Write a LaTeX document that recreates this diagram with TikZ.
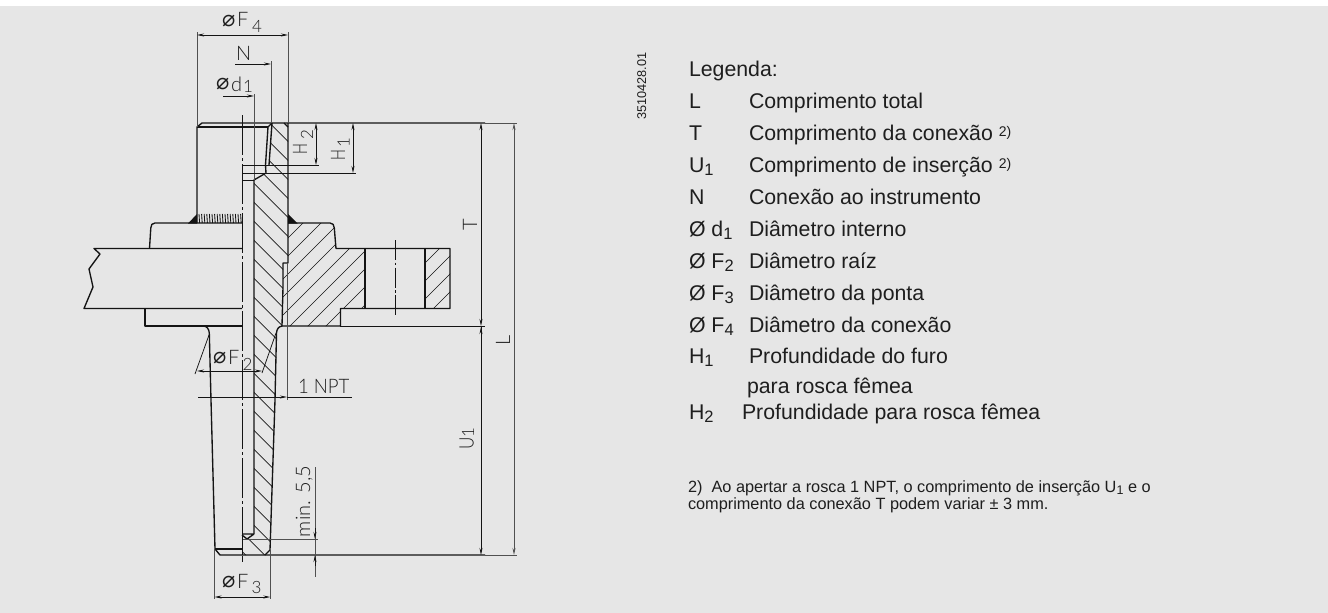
\documentclass[tikz,border=0pt]{standalone}
\usepackage{fontspec}
\usetikzlibrary{arrows.meta}
\setmainfont{Liberation Sans}
\newfontfamily\isofont{Lato Light}
\newfontfamily\dejafont{DejaVu Sans}
\definecolor{panel}{HTML}{E6E6E6}
\definecolor{ink}{HTML}{141414}
\definecolor{txt}{HTML}{1E1E1E}
\definecolor{extc}{HTML}{505050}
\tikzset{
  outline/.style={draw=ink,line width=1.35pt,line join=round},
  hatchline/.style={draw=ink,line width=0.65pt},
  dimline/.style={draw=ink,line width=0.75pt},
  extline/.style={draw=extc,line width=0.95pt},
  dimarrow/.style={draw=ink,line width=0.75pt,{Stealth[length=7pt,width=3pt]}-{Stealth[length=7pt,width=3pt]}},
  endarrow/.style={draw=ink,line width=0.75pt,-{Stealth[length=7pt,width=3pt]}},
  axisline/.style={draw=ink,line width=0.8pt,dash pattern=on 40pt off 3pt on 3pt off 3pt},
  iso/.style={inner sep=0pt,outer sep=0pt,anchor=base west,text=txt,font=\isofont\fontsize{20}{20}\selectfont},
  isosub/.style={iso,font=\isofont\fontsize{17}{17}\selectfont},
  leg/.style={inner sep=0pt,outer sep=0pt,anchor=base west,text=txt,font=\fontsize{21.3}{21.3}\selectfont},
  note/.style={inner sep=0pt,outer sep=0pt,anchor=base west,text=txt,font=\fontsize{16.3}{16.3}\selectfont},
}
\newcommand{\dia}{{\dejafont\fontsize{22}{22}\selectfont ⌀}}
\newcommand{\lsub}[1]{\raisebox{-3pt}{\fontsize{16.5}{16.5}\selectfont #1}}
\newcommand{\lsup}[1]{\raisebox{4pt}{\fontsize{14}{14}\selectfont #1}}
\newcommand{\nsub}[1]{\raisebox{-2pt}{\fontsize{12.5}{12.5}\selectfont #1}}
\begin{document}
\begin{tikzpicture}[x=1pt,y=-1pt]
\useasboundingbox (0,0) rectangle (1328,613);
\fill[white] (0,0) rectangle (1328,613);
\fill[panel] (0,5.5) rectangle (1328,613);

% hatch of the shank
\begin{scope}
\clip (272,123) -- (288,123) -- (288,263) -- (283,263) -- (283,287) -- (282,326) -- (277,332) -- (275,400) -- (270,550) -- (265,555) -- (242,555) -- (242,536) -- (247,539) -- (254,534) -- (254,180) -- (266,173) -- (269,165) -- cycle;
\foreach \k in {-16,...,14} {
  \pgfmathsetmacro{\c}{157.4+19*\k}
  \draw[hatchline] (200,200+\c) -- (330,330+\c);
}
\end{scope}
% hatch of the flange
\begin{scope}
\clip (288,223) -- (330,223) -- (334,228) -- (336,248) -- (365,248) -- (365,308.5) -- (340.5,308.5) -- (340.5,326) -- (282,326) -- (283,287) -- (283,263) -- (288,263) -- cycle
      (425,248) rectangle (450,308.5);
\foreach \k in {-10,...,8} {
  \pgfmathsetmacro{\c}{634+18*\k}
  \draw[hatchline] (260,\c-260) -- (470,\c-470);
}
\end{scope}
% fine thread marks of the weld seam
\foreach \i in {0,...,16} {
  \draw[draw=ink,line width=0.85pt] (199+2.6*\i,214) -- (199.6+2.6*\i,223);
}

% outline of the part
\draw[outline] (197,223) -- (197,127) -- (202,123) -- (485,123);
\draw[outline] (197,127) -- (268,127);
\draw[outline] (272,123) -- (268,127) -- (265.5,165) -- (266,173) -- (254,180) -- (254,534);
\draw[outline] (272,123) -- (269,165);
\draw[outline] (284,123) -- (288,127);
\draw[outline] (288,123) -- (288,263) -- (283,263) -- (283,287) -- (282,326) .. controls (278,327) and (277,329) .. (276.5,333) -- (275,400) -- (270,550) -- (265,555);
\draw[outline] (242,534) -- (254,534) (242,535) -- (247,539) -- (254,534);
\draw[outline] (242,223) -- (155,223) .. controls (152,223) and (151,225) .. (150.8,228) -- (149.5,248.5);
\draw[outline] (242,248.5) -- (94,248.5) -- (100,254) -- (89,269) -- (93,287) -- (84,308.5) -- (242,308.5);
\draw[outline] (242,326) -- (145,326) -- (145,308.5);
\draw[outline] (203,326) .. controls (207,326) and (209,329) .. (209.3,333) -- (211,400) -- (215,549) -- (220,555) -- (485,555);
\draw[outline] (215,549) -- (242,549);
\draw[outline] (288,223) -- (330,223) .. controls (333,223) and (334,225) .. (334.3,228) -- (336,248.5) -- (450,248.5) -- (450,308.5) -- (340.5,308.5) -- (340.5,326) -- (282,326);
\draw[outline] (365,248.5) -- (365,308.5) (425,248.5) -- (425,308.5);
\fill[ink] (188,223.5) -- (197,223.5) -- (197,214) -- cycle;
\fill[ink] (288,214) -- (288,223.5) -- (297.5,223.5) -- cycle;
\draw[draw=ink,line width=0.9pt] (242,536) -- (242,555);

% centre lines
\draw[axisline] (242.3,115) -- (242.3,562);
\draw[axisline,dash pattern=on 20pt off 2.5pt on 2.5pt off 2.5pt] (395,240) -- (395,316);

% extension lines
\draw[extline] (197,32) -- (197,127);
\draw[extline] (288,32) -- (288,123);
\draw[extline] (271,61) -- (271,123);
\draw[extline] (254,94) -- (254,180);
\draw[dimline] (242,165) -- (319,165);
\draw[dimline] (242,173) -- (356,173);
\draw[dimline] (242,180) -- (254,180);
\draw[extline] (485,123) -- (517,123);
\draw[extline] (485,555) -- (517,555);
\draw[dimline] (340,326) -- (485,326);
\draw[extline] (287,263) -- (287,400);
\draw[dimline] (209,335) -- (195,374);
\draw[dimline] (276,333) -- (262,373);
\draw[extline] (214.5,549) -- (214.5,599);
\draw[extline] (270.3,550) -- (270.3,599);
\draw[extline] (243,539) -- (318,539);

% dimension lines
\draw[dimarrow] (197,35) -- (288,35);
\draw[endarrow] (235,64) -- (271,64);
\draw[endarrow] (223,96) -- (254,96);
\draw[dimarrow] (316,123) -- (316,165);
\draw[dimarrow] (353,123) -- (353,173);
\draw[dimarrow] (481,123) -- (481,326);
\draw[endarrow] (481,326) -- (481,555);
\draw[endarrow] (481,340) -- (481,327);
\draw[dimarrow,draw=extc,line width=1pt] (514,123) -- (514,555);
\draw[dimarrow] (197,371) -- (262,371);
\draw[endarrow] (198,397) -- (287,397);
\draw[dimline] (287,397) -- (352,397);
\draw[extline] (315,467) -- (315,577);
\draw[endarrow] (315,528) -- (315,539);
\draw[endarrow] (315,566) -- (315,555);
\draw[dimarrow] (214.5,597) -- (270.3,597);

% labels of the drawing
\node[iso] (f4a) at (222,26) {\dia};
\node[iso] (f4b) at (237,27) {F};
\node[isosub] (f4c) at (252,32) {4};
\node[iso] (nn) at (236,60) {N};
\node[iso] (d1a) at (216,89) {\dia};
\node[iso] (d1b) at (231,91) {d};
\node[isosub] (d1c) at (243,92) {1};
\node[iso,rotate=90] (h2a) at (307,154.5) {\scalebox{0.72}[1]{H}};
\node[isosub,rotate=90] (h2b) at (313,139) {2};
\node[iso,rotate=90] (h1a) at (345,160) {\scalebox{0.72}[1]{H}};
\node[isosub,rotate=90] (h1b) at (349.5,147.5) {1};
\node[iso,rotate=90] (tt) at (477,230) {T};
\node[iso,rotate=90] (ll) at (510,345) {L};
\node[iso,rotate=90] (uu) at (473.5,449) {\scalebox{0.85}[1]{U}};
\node[isosub,rotate=90] (u1) at (474,437) {1};
\node[iso] (f2a) at (213,363) {\dia};
\node[iso] (f2b) at (228,364) {F};
\node[isosub] (f2c) at (242.5,370) {2};
\node[iso,xscale=0.93] (npt) at (298,393) {1 NPT};
\node[iso,rotate=90] (mn) at (310,537) {min. 5,5};
\node[iso] (f3a) at (222,587) {\dia};
\node[iso] (f3b) at (237,588) {F};
\node[isosub] (f3c) at (251.5,593) {3};

% legend
\node[inner sep=0pt,anchor=base west,rotate=90,text=txt,font=\fontsize{12.7}{12.7}\selectfont] (code) at (646,120) {3510428.01};
\node[leg] (l0) at (689,76) {Legenda:};
\node[leg] (l1) at (689,108) {L};
\node[leg] (d1) at (749,108) {Comprimento total};
\node[leg] (l2) at (689,140) {T};
\node[leg] (d2) at (749,140) {Comprimento da conexão \lsup{2)}};
\node[leg] (l3) at (689,172) {U\lsub{1}};
\node[leg] (d3) at (749,172) {Comprimento de inserção \lsup{2)}};
\node[leg] (l4) at (689,204) {N};
\node[leg] (d4) at (749,204) {Conexão ao instrumento};
\node[leg] (l5) at (689,236) {Ø d\lsub{1}};
\node[leg] (d5) at (749,236) {Diâmetro interno};
\node[leg] (l6) at (689,268) {Ø F\lsub{2}};
\node[leg] (d6) at (749,268) {Diâmetro raíz};
\node[leg] (l7) at (689,300) {Ø F\lsub{3}};
\node[leg] (d7) at (749,300) {Diâmetro da ponta};
\node[leg] (l8) at (689,332) {Ø F\lsub{4}};
\node[leg] (d8) at (749,332) {Diâmetro da conexão};
\node[leg] (l9) at (689,363) {H\lsub{1}};
\node[leg] (d9) at (749,363) {Profundidade do furo};
\node[leg] (d9b) at (747,393) {para rosca fêmea};
\node[leg] (l10) at (689,419) {H\lsub{2}};
\node[leg] (d10) at (742,419) {Profundidade para rosca fêmea};
\node[note] (n1) at (688,492.5) {2)\ \ Ao apertar a rosca 1 NPT, o comprimento de inserção U\nsub{1} e o};
\node[note] (n2) at (688,509.5) {comprimento da conexão T podem variar ± 3 mm.};
\end{tikzpicture}
\end{document}
